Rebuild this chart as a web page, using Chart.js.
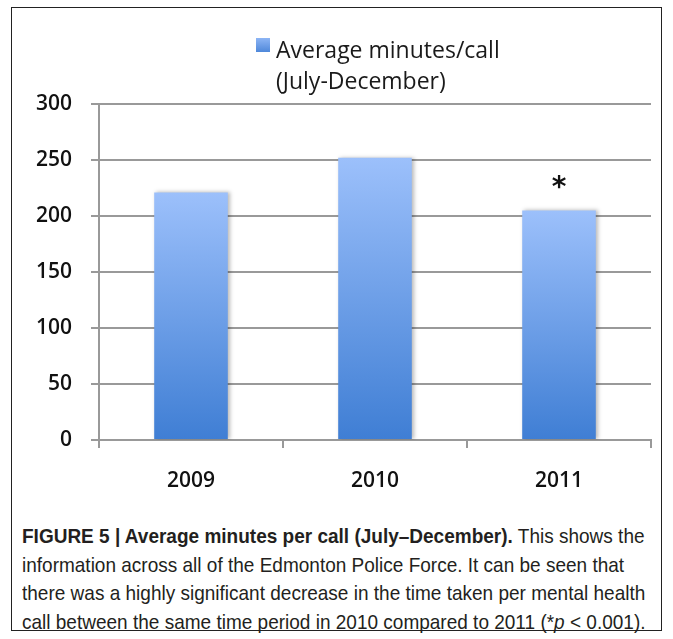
<!DOCTYPE html>
<html lang="en">

<head>
  <meta charset="UTF-8">
  <title>Average minutes per call</title>
  <script src="https://cdn.jsdelivr.net/npm/chart.js"></script>
  <style>
    body {
      margin: 0;
      background: #fff;
    }

    .quadro {
      position: absolute;
      left: 11px;
      top: 7px;
      width: 651px;
      height: 624px;
      border: 1.5px solid #222;
      box-sizing: border-box;
    }

    .grafico {
      position: absolute;
      left: 0;
      top: 0;
      width: 673px;
      height: 500px;
    }

    .legenda {
      position: absolute;
      left: 22px;
      top: 522px;
      font-family: "Liberation Sans", Arial, sans-serif;
      font-size: 21px;
      line-height: 28.5px;
      color: #231f20;
      white-space: nowrap;
      transform: scaleX(0.905);
      transform-origin: left top;
    }
  </style>
</head>

<body>
  <div class="quadro"></div>
  <div class="grafico">
    <canvas id="myChart" width="673" height="500"></canvas>
  </div>
  <div class="legenda">
    <b>FIGURE 5 | Average minutes per call (July–December).</b> This shows the<br>
    information across all of the Edmonton Police Force. It can be seen that<br>
    there was a highly significant decrease in the time taken per mental health<br>
    call between the same time period in 2010 compared to 2011 (*<i>p</i> &lt; 0.001).
  </div>
</body>

</html>
<script>
  // dados do gráfico
  const anos = ['2009', '2010', '2011'];
  const minutos = [221, 252, 205];
  const marcas = ['', '', '*'];
  const serieNome = ['Average minutes/call', '(July-December)'];

  const fonteEixo = { family: 'Open Sans', size: 21, weight: '600' };
  const corGrade = '#999999';

  // sombra leve à direita das barras
  const sombra = {
    id: 'sombra',
    beforeDatasetsDraw(chart) {
      const ctx = chart.ctx;
      ctx.save();
      ctx.shadowColor = 'rgba(0,0,0,0.28)';
      ctx.shadowBlur = 4;
      ctx.shadowOffsetX = 2;
      ctx.shadowOffsetY = 0;
    },
    afterDatasetsDraw(chart) {
      chart.ctx.restore();
    }
  };

  // asterisco sobre a barra de 2011
  const asterisco = {
    id: 'asterisco',
    afterDatasetsDraw(chart) {
      const ctx = chart.ctx;
      const meta = chart.getDatasetMeta(0);
      ctx.save();
      ctx.fillStyle = '#111';
      ctx.font = 'bold 28px "DejaVu Sans"';
      ctx.textAlign = 'center';
      ctx.textBaseline = 'alphabetic';
      for (var i = 0; i < marcas.length; i++) {
        if (!marcas[i]) continue;
        var barra = meta.data[i];
        ctx.fillText(marcas[i], barra.x, barra.y - 14);
      }
      ctx.restore();
    }
  };

  // legenda em duas linhas, com o quadrado azul na frente
  const legendaTopo = {
    id: 'legendaTopo',
    afterDraw(chart) {
      const ctx = chart.ctx;
      const x = 256;
      ctx.save();
      const g = ctx.createLinearGradient(0, 38, 0, 52);
      g.addColorStop(0, '#8db5f5');
      g.addColorStop(1, '#4f88da');
      ctx.fillStyle = g;
      ctx.fillRect(x, 38, 14, 14);
      ctx.fillStyle = '#1a1a1a';
      ctx.font = '500 23px "Open Sans"';
      ctx.textBaseline = 'middle';
      ctx.fillText(serieNome[0], x + 20, 51);
      ctx.fillText(serieNome[1], x + 20, 82);
      ctx.restore();
    }
  };

  const ctx = document.getElementById('myChart');

  new Chart(ctx, {
    type: 'bar',
    data: {
      labels: anos,
      datasets: [{
        label: serieNome.join(' '),
        data: minutos,
        backgroundColor: function (context) {
          const chart = context.chart;
          if (!chart.chartArea || context.type !== 'data') return '#6c9de9';
          const escala = chart.scales.y;
          const topo = escala.getPixelForValue(context.parsed.y);
          const base = escala.getPixelForValue(0);
          const g = chart.ctx.createLinearGradient(0, topo, 0, base);
          g.addColorStop(0, '#9cc0fb');
          g.addColorStop(1, '#3f7ed4');
          return g;
        },
        borderWidth: 0,
        categoryPercentage: 1,
        barPercentage: 0.4
      }]
    },
    options: {
      responsive: false,
      animation: false,
      layout: {
        padding: { top: 104, right: 22, left: 0, bottom: 0 }
      },
      plugins: {
        legend: { display: false },
        tooltip: { enabled: false }
      },
      scales: {
        x: {
          grid: {
            offset: true,
            drawOnChartArea: false,
            tickLength: 8,
            color: corGrade,
            lineWidth: 2
          },
          border: { color: corGrade, width: 2 },
          ticks: { padding: 20, color: '#111', font: fonteEixo },
          afterFit(scale) { scale.height = 60; }
        },
        y: {
          min: 0,
          max: 300,
          ticks: { stepSize: 50, padding: 19, color: '#111', font: fonteEixo },
          grid: { color: corGrade, lineWidth: 2, tickLength: 8 },
          border: { color: corGrade, width: 2 },
          afterFit(scale) { scale.width = 99; }
        }
      }
    },
    plugins: [sombra, asterisco, legendaTopo]
  });
</script>
